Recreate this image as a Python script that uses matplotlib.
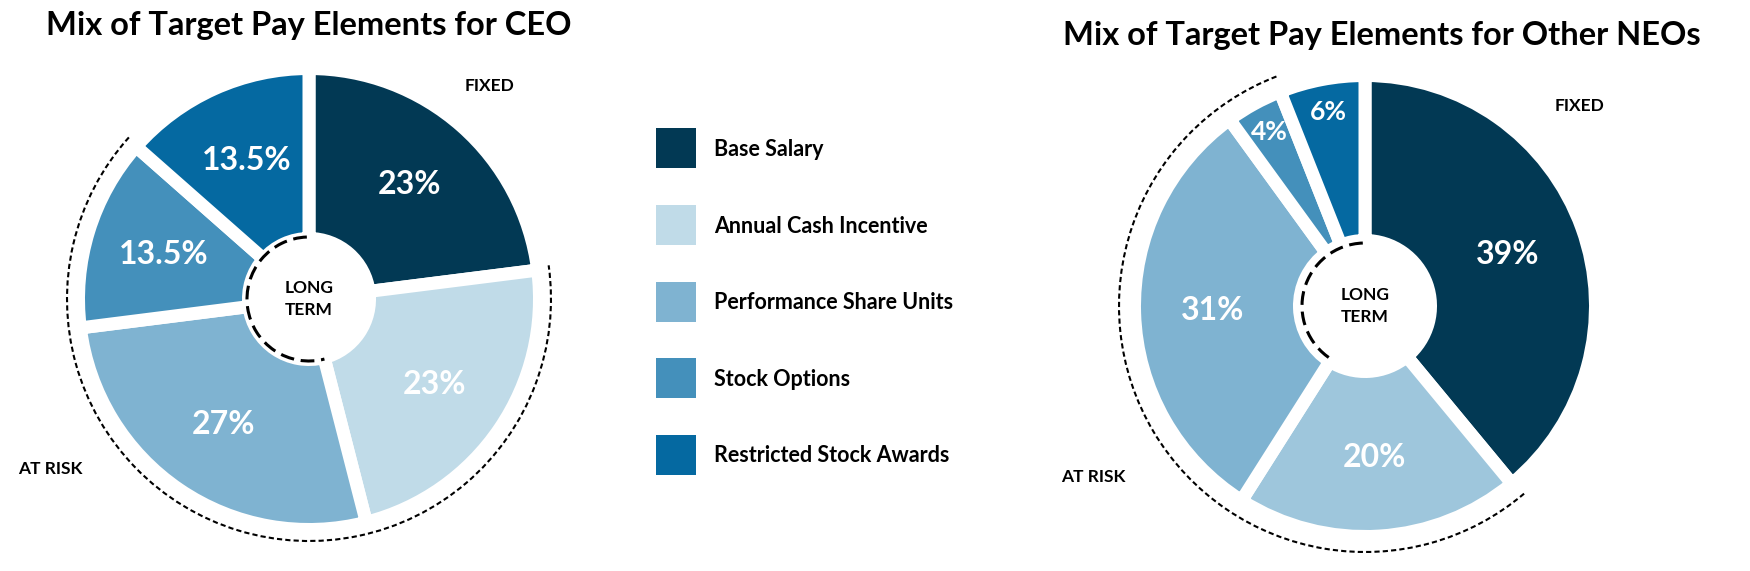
import numpy as np
import matplotlib as mpl
mpl.use('Agg')
import matplotlib.pyplot as plt
from matplotlib.patches import Arc
from matplotlib.lines import Line2D

plt.rcParams['font.family'] = ['Lato', 'DejaVu Sans']

elements = ['Base Salary', 'Annual Cash Incentive', 'Performance Share Units',
            'Stock Options', 'Restricted Stock Awards']
ceo_mix = [23, 23, 27, 13.5, 13.5]
neo_mix = [39, 20, 31, 4, 6]

ceo_colors = ['#023954', '#c0dbe8', '#7fb3d1', '#4490bb', '#0569a1']
neo_colors = ['#023954', '#9ec6dc', '#7fb3d1', '#4490bb', '#0569a1']

W, H = 1750, 571
R = 224      # visible outer radius (px)
GAP = 13     # white gap between wedges (px)


def draw_mix(ax, values, colors, cx, cy, hole, ring, inner_ring,
             title, title_xy, fixed_xy, risk_xy):
    wedges, _ = ax.pie(values, colors=colors, startangle=90, counterclock=False,
                       radius=R + GAP / 2, center=(cx, cy), frame=True,
                       wedgeprops=dict(width=(R + GAP / 2) - (hole - GAP / 2),
                                       edgecolor='white',
                                       linewidth=GAP * 72 / 100))
    for w, v in zip(wedges, values):
        ang = np.deg2rad((w.theta1 + w.theta2) / 2)
        r = 152 if v >= 10 else 198
        ax.text(cx + r * np.cos(ang), cy + r * np.sin(ang), f'{v:g}%',
                ha='center', va='center', color='white', fontweight='bold',
                fontsize=23 if v >= 10 else 19)

    base, psu, so = wedges[0], wedges[2], wedges[3]
    # at risk ring: annual cash -> stock options
    ax.add_patch(Arc((cx, cy), 2 * ring, 2 * ring,
                     theta1=so.theta1 - 0.5, theta2=base.theta1 + 0.8,
                     edgecolor='black', lw=1.5, ls=(0, (2.5, 1.5)), zorder=5))
    # long term ring: rsa -> psu
    ax.add_patch(Arc((cx, cy), 2 * inner_ring, 2 * inner_ring,
                     theta1=92, theta2=psu.theta2 % 360,
                     edgecolor='black', lw=2.2, ls=(0, (4.5, 2.2)), zorder=5))

    ax.text(cx, cy, 'LONG\nTERM', ha='center', va='center', fontsize=12.5,
            fontweight='bold', linespacing=1.4)
    ax.text(*fixed_xy, 'FIXED', ha='center', va='center', fontsize=12.5,
            fontweight='bold')
    ax.text(*risk_xy, 'AT RISK', ha='center', va='center', fontsize=12.5,
            fontweight='bold')
    ax.text(*title_xy, title, ha='center', va='center', fontsize=23.5,
            fontweight='bold')


fig = plt.figure(figsize=(17.5, 5.71), dpi=100)
ax = fig.add_axes([0, 0, 1, 1])

draw_mix(ax, ceo_mix, ceo_colors, 309, H - 299, 67, 242, 62,
         'Mix of Target Pay Elements for CEO', (309, H - 26),
         (490, H - 86), (50, H - 469))
draw_mix(ax, neo_mix, neo_colors, 1365, H - 306, 72, 246, 63,
         'Mix of Target Pay Elements for Other NEOs', (1382, H - 35),
         (1580, H - 106), (1093, H - 477))

handles = [Line2D([], [], marker='s', markersize=40 * 72 / 100, linestyle='none',
                  markeredgewidth=0, color=c) for c in ceo_colors]
fig.legend(handles, elements, loc='upper left',
           bbox_to_anchor=(656 / W, 1 - 139 / H), frameon=False,
           prop={'weight': 'bold', 'size': 15.5},
           handlelength=1.86, handletextpad=0.84, labelspacing=2.58,
           borderpad=0, borderaxespad=0)

ax.set_xlim(0, W)
ax.set_ylim(0, H)
ax.set_aspect('equal')
ax.axis('off')

fig.savefig('out.png', dpi=100)
